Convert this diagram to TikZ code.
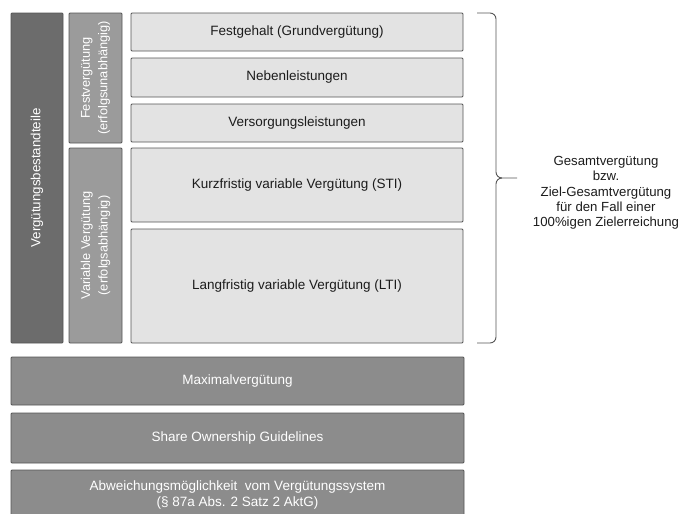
\documentclass[tikz,border=0pt]{standalone}
\usepackage{fontspec}
\setmainfont{Liberation Sans}
\definecolor{darkbar}{HTML}{6C6C6C}
\definecolor{midbar}{HTML}{9B9B9B}
\definecolor{lightbox}{HTML}{E3E3E3}
\definecolor{botbox}{HTML}{8C8C8C}
\definecolor{edge}{HTML}{555555}
\definecolor{txt}{HTML}{1C1C1C}
\tikzset{
  box/.style={draw=edge, line width=0.9pt, rounded corners=1pt},
  lbox/.style={box, fill=lightbox},
  ltext/.style={font=\fontsize{13.5}{16.5}\selectfont, text=txt, align=center},
  wtext/.style={font=\fontsize{13.5}{16.5}\selectfont, text=white, align=center},
  rtext/.style={font=\fontsize{12.8}{17.5}\selectfont, text=white, align=center, rotate=90},
}
\begin{document}
\begin{tikzpicture}[x=1pt,y=-1pt]
\useasboundingbox (0,0) rectangle (680,514);
% left bar
\draw[box, fill=darkbar] (11,13) rectangle (63,343);
\node[wtext, rotate=90, font=\fontsize{13.3}{16}\selectfont] (vb) at (37,178) {Vergütungsbestandteile};
% middle column
\draw[box, fill=midbar] (69,13) rectangle (122,143);
\node[rtext] (fv) at (95.5,78) {Festvergütung\\(erfolgsunabhängig)};
\draw[box, fill=midbar] (69,148) rectangle (122,343);
\node[rtext] (vv) at (95.5,245.5) {Variable Vergütung\\(erfolgsabhängig)};
% right boxes
\draw[lbox] (131,13) rectangle (463,51);
\node[ltext] (fg) at (297,32) {Festgehalt (Grundvergütung)};
\draw[lbox] (131,58) rectangle (463,97);
\node[ltext] (nl) at (297,77.5) {Nebenleistungen};
\draw[lbox] (131,104) rectangle (463,142);
\node[ltext] (vl) at (297,123) {Versorgungsleistungen};
\draw[lbox] (131,148) rectangle (463,222);
\node[ltext] (sti) at (297,185) {Kurzfristig variable Vergütung (STI)};
\draw[lbox] (131,229) rectangle (463,343);
\node[ltext] (lti) at (297,286) {Langfristig variable Vergütung (LTI)};
% brace
\coordinate (bt) at (477,13);
\coordinate (bb) at (477,343);
\coordinate (btip) at (517,178);
\draw[edge, line width=0.9pt] (bt) -- (490,13) to[out=0,in=90] (496,19) -- (496,172)
  to[out=-90,in=180] (502,178) -- (btip);
\draw[edge, line width=0.9pt] (bb) -- (490,343) to[out=0,in=-90] (496,337) -- (496,184)
  to[out=90,in=180] (502,178);
\node[ltext, font=\fontsize{13.2}{15.3}\selectfont] (ges) at (606,193) {Gesamtvergütung\\bzw.\\Ziel-Gesamtvergütung\\für den Fall einer\\100\%igen Zielerreichung};
% bottom boxes
\draw[box, fill=botbox] (11,357) rectangle (464,405);
\node[wtext] (mx) at (237.5,381) {Maximalvergütung};
\draw[box, fill=botbox] (11,413) rectangle (464,463);
\node[wtext] (sog) at (237.5,438) {Share Ownership Guidelines};
\draw[box, fill=botbox] (11,470) rectangle (464,520);
\node[wtext] (ab) at (237.5,495) {Abweichungsmöglichkeit\ \ vom Vergütungssystem\\(§ 87a Abs. 2 Satz 2 AktG)};
\end{tikzpicture}
\end{document}
